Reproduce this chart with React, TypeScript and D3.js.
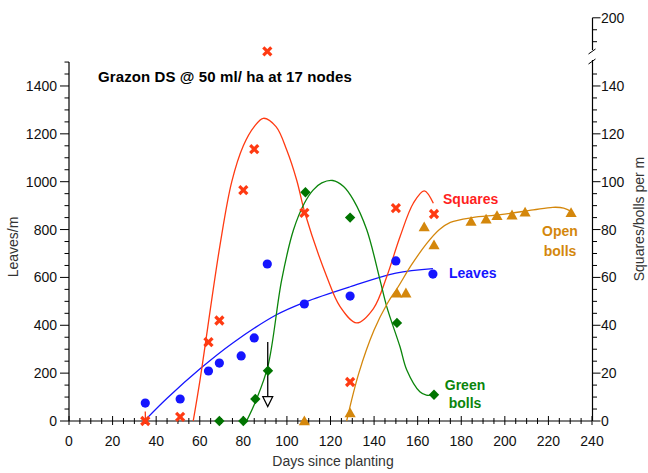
import React from 'react';
import * as d3 from 'd3';

// ---------- data ----------
const leafDays = [35, 51, 64, 69, 79, 85, 91, 108, 129, 150, 167];
const leafValues = [75, 92, 209, 242, 272, 347, 656, 489, 522, 669, 614];
const leafCurveDays = [35.6, 45, 60, 75, 95, 108, 129, 150, 167];
const leafCurveValues = [10, 95, 217, 325, 443, 496, 561, 618, 637];

const squareDays = [35, 51, 64, 69, 80, 85, 91, 108, 129, 150, 167.5];
const squareValues = [0, 1.7, 33, 42, 96.5, 113.6, 154.5, 87, 16.3, 89, 86.5];
const squareTailDays = [35.1, 35.0];
const squareTailValues = [0, 4];
const squareCurveDays = [57, 60.1, 69.3, 74.7, 80, 85, 89.2, 95, 100, 104.5, 108.3, 118.3, 124.4, 132, 139.7, 145.8, 151.9, 158, 163, 167.2];
const squareCurveValues = [0, 17, 73.5, 100, 115, 123, 126.5, 123, 113, 100.6, 86.8, 60.3, 47.8, 41, 47, 60.3, 77, 91, 96.2, 91];

const greenDays = [69, 80, 85.5, 91.3, 108.5, 129, 150.5, 167.5];
const greenValues = [0, 0, 9.2, 21, 95.6, 85, 41, 11];
const greenCurveDays = [81.5, 86, 91.3, 97.6, 103, 108, 112, 116, 121, 126, 130.5, 136.6, 142.7, 145.8, 151.9, 155, 161, 164, 167.5];
const greenCurveValues = [0, 9, 23, 59, 79.8, 91, 96.5, 99.5, 100.5, 98, 92.4, 80, 59, 47.8, 31, 21.3, 12.2, 10.8, 11];

const openDays = [108, 129, 150.5, 154.6, 163, 167.5, 184.5, 191.4, 196.4, 203.3, 209.3, 230.4];
const openValues = [0, 3.3, 53.4, 53.4, 81, 73.5, 83.3, 84.3, 85.7, 86, 87.2, 87];
const openCurveDays = [127.4, 133, 140, 146, 151, 157, 164, 170, 175, 185, 198, 213, 222, 227, 230.6];
const openCurveValues = [0, 20, 38, 49, 56, 65, 74, 80, 83, 85, 86.2, 88.2, 89.3, 89, 87.5];

const arrowDay = 91.2;
const arrowFrom = 33;
const arrowHead = 10.2;
const arrowTip = 6;

const xTicks = [0, 20, 40, 60, 80, 100, 120, 140, 160, 180, 200, 220, 240];
const leftTicks = [0, 200, 400, 600, 800, 1000, 1200, 1400];
const rightTicks = [0, 20, 40, 60, 80, 100, 120, 140];
const rightUpperTicks = [200];

const title = 'Grazon DS @ 50 ml/ ha at 17 nodes';

// ---------- styles ----------
const FONT = 'Liberation Sans, Arial, sans-serif';
const C_RED = '#ff3a12';
const C_RED_TXT = '#ff1f1f';
const C_BLUE = '#1515ff';
const C_GREEN = '#0b850b';
const C_GREEN_MK = '#007400';
const C_ORANGE = '#d4870c';

export default function App() {
  const W = 648, H = 473;
  const x = d3.scaleLinear().domain([0, 240]).range([69, 592]);
  const yL = d3.scaleLinear().domain([0, 1500]).range([421, 62.05]);
  const yR = d3.scaleLinear().domain([0, 150]).range([421, 62.05]);
  const yU = d3.scaleLinear().domain([190, 200]).range([41.7, 17.8]);

  const line = (ys: d3.ScaleLinear<number, number>) =>
    d3.line<[number, number]>().x(d => x(d[0])).y(d => ys(d[1])).curve(d3.curveCatmullRom.alpha(0.5));
  const zip = (a: number[], b: number[]) => a.map((v, i) => [v, b[i]] as [number, number]);

  const xMinor = d3.range(0, 241, 5);
  const lMinor = d3.range(0, 1501, 50);
  const rMinor = d3.range(0, 146, 5);
  const uMinor = [190, 195, 200];

  const diamond = 'M0,-5.2L5.2,0L0,5.2L-5.2,0Z';
  const tri = 'M0,-5.6L5.6,4.2L-5.6,4.2Z';

  const ax = 592.5;

  return (
    <svg width={W} height={H} style={{ position: 'absolute', left: 0, top: 0, background: '#fff' }} fontFamily={FONT}>
      <rect width={W} height={H} fill="#fff" />
      {/* X axis */}
      <line x1={69} x2={592} y1={421} y2={421} stroke="#000" strokeWidth={1.2} />
      {xMinor.map(t => (
        <line key={'xm' + t} x1={x(t)} x2={x(t)} y1={t % 20 === 0 ? 416 : 418} y2={t % 20 === 0 ? 425 : 424} stroke="#000" strokeWidth={1} />
      ))}
      {xTicks.map(t => (
        <text key={'xt' + t} x={x(t)} y={446} textAnchor="middle" fontSize={14} fill="#111">{t}</text>
      ))}
      <text x={333} y={466} textAnchor="middle" fontSize={14} fill="#333">Days since planting</text>

      {/* Left axis */}
      <line x1={69} x2={69} y1={62} y2={421} stroke="#000" strokeWidth={1.2} />
      {lMinor.map(t => (
        <line key={'lm' + t} x1={t % 200 === 0 ? 60 : 64.5} x2={69} y1={yL(t)} y2={yL(t)} stroke="#000" strokeWidth={1} />
      ))}
      {leftTicks.map(t => (
        <text key={'lt' + t} x={57} y={yL(t) + 5} textAnchor="end" fontSize={14} fill="#111">{t}</text>
      ))}
      <text transform="translate(18,247) rotate(-90)" textAnchor="middle" fontSize={14} fill="#333">Leaves/m</text>

      {/* Right axis */}
      <line x1={ax} x2={ax} y1={60} y2={421} stroke="#000" strokeWidth={1.2} />
      <line x1={ax} x2={ax} y1={17.8} y2={50} stroke="#000" strokeWidth={1.2} />
      <line x1={ax - 4} x2={ax + 3} y1={54} y2={49} stroke="#000" strokeWidth={1} />
      <line x1={ax - 4} x2={ax + 3} y1={64} y2={59} stroke="#000" strokeWidth={1} />
      {rMinor.map(t => (
        <line key={'rm' + t} x1={ax} x2={t % 20 === 0 ? ax + 8 : ax + 4.5} y1={yR(t)} y2={yR(t)} stroke="#000" strokeWidth={1} />
      ))}
      {uMinor.map(t => (
        <line key={'um' + t} x1={ax} x2={t === 200 ? ax + 8 : ax + 4.5} y1={yU(t)} y2={yU(t)} stroke="#000" strokeWidth={1} />
      ))}
      {rightTicks.map(t => (
        <text key={'rt' + t} x={601} y={yR(t) + 5} fontSize={14} fill="#111">{t}</text>
      ))}
      {rightUpperTicks.map(t => (
        <text key={'ru' + t} x={601} y={yU(t) + 5} fontSize={14} fill="#111">{t}</text>
      ))}
      <text transform="translate(644,219) rotate(-90)" textAnchor="middle" fontSize={14} fill="#333">Squares/bolls per m</text>

      {/* Curves */}
      <path d={line(yL)(zip(leafCurveDays, leafCurveValues)) || ''} fill="none" stroke={C_BLUE} strokeWidth={1.3} />
      <path d={line(yR)(zip(squareTailDays, squareTailValues)) || ''} fill="none" stroke={C_RED} strokeWidth={1.3} />
      <path d={line(yR)(zip(squareCurveDays, squareCurveValues)) || ''} fill="none" stroke={C_RED} strokeWidth={1.3} />
      <path d={line(yR)(zip(greenCurveDays, greenCurveValues)) || ''} fill="none" stroke={C_GREEN} strokeWidth={1.3} />
      <path d={line(yR)(zip(openCurveDays, openCurveValues)) || ''} fill="none" stroke={C_ORANGE} strokeWidth={1.3} />

      {/* Arrow */}
      <line x1={x(arrowDay)} x2={x(arrowDay)} y1={yR(arrowFrom)} y2={yR(arrowHead)} stroke="#000" strokeWidth={1.3} />
      <path d={`M${x(arrowDay) - 5},${yR(arrowHead)}L${x(arrowDay) + 5},${yR(arrowHead)}L${x(arrowDay)},${yR(arrowTip)}Z`} fill="#fff" stroke="#000" strokeWidth={1.2} />

      {/* Markers */}
      {leafDays.map((d, i) => (
        <circle key={'lf' + i} cx={x(d)} cy={yL(leafValues[i])} r={4.6} fill={C_BLUE} />
      ))}
      {greenDays.map((d, i) => (
        <path key={'gb' + i} d={diamond} transform={`translate(${x(d)},${yR(greenValues[i])})`} fill={C_GREEN_MK} />
      ))}
      {openDays.map((d, i) => (
        <path key={'ob' + i} d={tri} transform={`translate(${x(d)},${yR(openValues[i])})`} fill={C_ORANGE} />
      ))}
      {squareDays.map((d, i) => (
        <g key={'sq' + i} transform={`translate(${x(d)},${yR(squareValues[i])})`} stroke={C_RED} strokeWidth={3.2} strokeLinecap="butt">
          <line x1={-4} y1={-4} x2={4} y2={4} />
          <line x1={-4} y1={4} x2={4} y2={-4} />
        </g>
      ))}

      {/* Labels */}
      <text x={98} y={82} fontSize={15} fontWeight="bold" fill="#000" letterSpacing={0.1}>{title}</text>
      <text x={443} y={204} fontSize={14} fontWeight="bold" fill={C_RED_TXT}>Squares</text>
      <text x={449} y={278} fontSize={14} fontWeight="bold" fill={C_BLUE}>Leaves</text>
      <text x={560} y={236} fontSize={14} fontWeight="bold" fill={C_ORANGE} textAnchor="middle">Open</text>
      <text x={560} y={256} fontSize={14} fontWeight="bold" fill={C_ORANGE} textAnchor="middle">bolls</text>
      <text x={465} y={390} fontSize={14} fontWeight="bold" fill={C_GREEN} textAnchor="middle">Green</text>
      <text x={465} y={408} fontSize={14} fontWeight="bold" fill={C_GREEN} textAnchor="middle">bolls</text>
    </svg>
  );
}
